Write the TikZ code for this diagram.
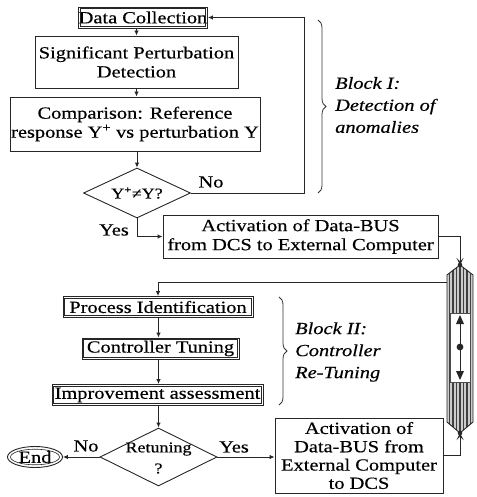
\documentclass[tikz,border=0pt]{standalone}
\usepackage{fontspec}
\setmainfont{Liberation Serif}[FakeStretch=1.2, FakeBold=0.4]
\usetikzlibrary{shapes.geometric,arrows.meta,decorations.pathreplacing}
\begin{document}
\begin{tikzpicture}[x=1pt,y=-1pt,
  font=\fontsize{17}{19}\selectfont,
  box/.style={draw=black!85, line width=0.9pt, inner sep=0pt, align=center},
  inner/.style={draw=black!85, line width=0.6pt},
  dia/.style={draw=black!85, line width=0.9pt, diamond, inner sep=0pt, aspect=2},
  arr/.style={-{Latex[length=5pt,width=4.5pt]}, line width=0.9pt, draw=black!85},
  busarr/.style={-{Stealth[length=7pt,width=7pt,inset=3.5pt]}, line width=0.9pt, draw=black!85},
  lbl/.style={inner sep=0pt},
  blk/.style={inner sep=0pt, anchor=west, align=left, font=\itshape\fontsize{17}{22}\selectfont},
  brc/.style={decorate, decoration={brace, amplitude=8pt}, line width=0.8pt, draw=black!80}
]
\useasboundingbox (0,0) rectangle (476,497);

% Block I
\node[box, minimum width=129pt, minimum height=21pt] (dc) at (143,17.5) {Data Collection};
\node[box, minimum width=203pt, minimum height=52pt] (sp) at (136.5,62) {Significant Perturbation\\Detection};
\node[box, minimum width=250pt, minimum height=54pt] (cmp) at (135,124) {Comparison: Reference\\response Y\textsuperscript{+} vs perturbation Y};
\node[dia, minimum width=107pt, minimum height=50pt, font=\fontsize{15}{18}\selectfont] (d1) at (137,193) {Y\textsuperscript{+}≠Y?};
\node[box, minimum width=275pt, minimum height=43pt] (a1) at (300.5,236.5) {Activation of Data-BUS\\from DCS to External Computer};

% Block II
\node[box, minimum width=190pt, minimum height=21pt] (pi) at (158,307) {Process Identification};
\node[box, minimum width=157pt, minimum height=21pt] (ct) at (160.5,348.5) {Controller Tuning};
\node[box, minimum width=211pt, minimum height=21pt] (ia) at (157.5,395) {Improvement assessment};
\foreach \n in {dc,pi,ct,ia}
  \draw[inner] ([shift={(2.2pt,2.2pt)}]\n.south west) rectangle ([shift={(-2.2pt,-2.2pt)}]\n.north east);
\node[dia, minimum width=117pt, minimum height=58pt] (d2) at (158.5,457) {};
\node[lbl, align=center, font=\fontsize{15}{21}\selectfont] (d2t) at (158.5,458) {Retuning\\?};
\node[draw=black!85, ellipse, line width=0.9pt, minimum width=55pt, minimum height=21pt, inner sep=0pt] (end) at (35,457) {End};
\draw[inner] (end.center) ellipse [x radius=24.5pt, y radius=7.8pt];
\node[box, minimum width=168pt, minimum height=75pt, font=\fontsize{17}{18.3}\selectfont] (a2) at (359,455.5) {Activation of\\Data-BUS from\\External Computer\\to DCS};

% Data bus column
\coordinate (bt) at (460,265);
\coordinate (bb) at (460,433);
\coordinate (bl) at (447,282);
\coordinate (bc) at (460,347);
\begin{scope}
  \clip (447,275) -- (bt) -- (473,275) -- (473,422) -- (bb) -- (447,422) -- cycle;
  \fill[black!20] (440,260) rectangle (480,440);
  \foreach \x in {449.5,453,...,471} \draw[black!75, line width=1.2pt] (\x,260) -- (\x,440);
\end{scope}
\draw[black!85, line width=0.9pt] (447,275) -- (bt) -- (473,275) -- (473,422) -- (bb) -- (447,422) -- cycle;
\filldraw[fill=white, draw=black!70, line width=0.5pt] (450,313) rectangle (470,382);
\draw[black!85, line width=1pt] (460,322) -- (460,373);
\fill[black!85] (460,315) -- (456,324) -- (464,324) -- cycle;
\fill[black!85] (460,380) -- (456,371) -- (464,371) -- cycle;
\fill[black!85] (bc) circle (3.4pt);

% connectors
\coordinate (loop) at (304,193);
\draw[arr] (dc.south -| sp.north) -- (sp.north);
\draw[arr] (sp.south) -- (sp.south |- cmp.north);
\draw[arr] (cmp.south -| d1.north) -- (d1.north);
\draw[arr] (d1.east) -- (loop) |- (dc.east);
\draw[arr] (d1.south) |- (a1.west);
\draw[busarr] (a1.east) -| (bt);
\fill[black!85] (bt) circle (2.3pt);
\draw[arr] (bl) -| (pi.north);
\draw[arr] (pi.south -| d2.north) -- (ct.north -| d2.north);
\draw[arr] (ct.south -| d2.north) -- (ia.north -| d2.north);
\draw[arr] (ia.south -| d2.north) -- (d2.north);
\draw[arr] (d2.west) -- (end.east);
\draw[arr] (d2.east) -- (a2.west |- d2.east);
\draw[busarr] (a2.east) -| (bb);
\fill[black!85] (bb) circle (2.3pt);

% labels
\node[lbl] (no1) at (211,182) {No};
\node[lbl] (yes1) at (114,230) {Yes};
\node[lbl] (no2) at (86,446) {No};
\node[lbl] (yes2) at (234,447) {Yes};

% braces (tip pointing right)
\draw[brc] (318,20) -- (318,193);
\node[blk] (b1) at (335,105) {Block I:\\Detection of\\anomalies};
\draw[brc] (279,297) -- (279,405);
\node[blk] (b2) at (295,352) {Block II:\\Controller\\Re-Tuning};
\end{tikzpicture}
\end{document}
